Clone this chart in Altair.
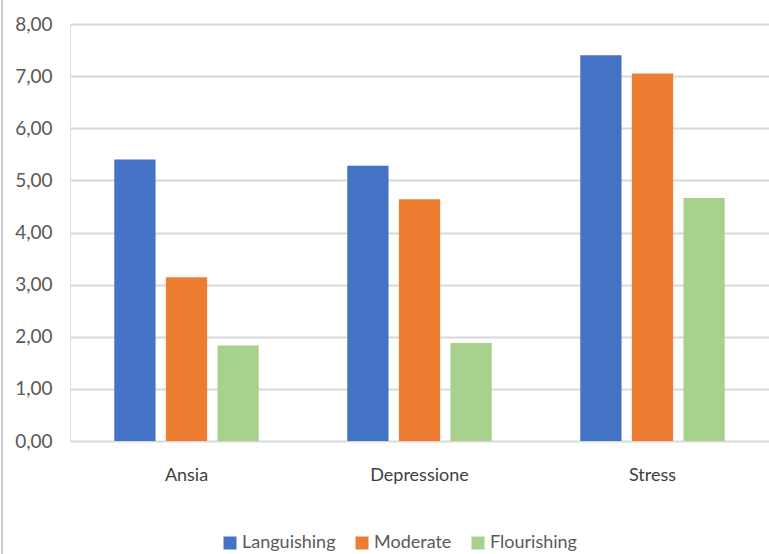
import altair as alt
import pandas as pd

# Mean scores per scale and mental-health group
categories = ["Ansia", "Depressione", "Stress"]
groups = ["Languishing", "Moderate", "Flourishing"]
languishing = [5.40, 5.28, 7.40]
moderate = [3.14, 4.64, 7.05]
flourishing = [1.83, 1.88, 4.66]
y_ticks = [0, 1, 2, 3, 4, 5, 6, 7, 8]

colors = ["#4472C4", "#ED7D31", "#A9D18E"]

rows = []
for series_name, values in zip(groups, [languishing, moderate, flourishing]):
    for cat, v in zip(categories, values):
        rows.append({"categoria": cat, "gruppo": series_name, "valore": v})
df = pd.DataFrame(rows)

FONT = "Lato"

bars = alt.Chart(df).mark_bar().encode(
    x=alt.X(
        "categoria:N",
        sort=categories,
        title=None,
        scale=alt.Scale(paddingInner=0.38, paddingOuter=0.19),
        axis=alt.Axis(
            labelAngle=0,
            ticks=False,
            domain=False,
            grid=False,
            labelFont=FONT,
            labelFontSize=18,
            labelColor="#404040",
            labelPadding=25,
        ),
    ),
    xOffset=alt.XOffset(
        "gruppo:N",
        sort=groups,
        scale=alt.Scale(paddingInner=0.2, paddingOuter=0),
    ),
    y=alt.Y(
        "valore:Q",
        title=None,
        scale=alt.Scale(domain=[0, 8], nice=False),
        axis=alt.Axis(
            values=y_ticks,
            labelExpr="replace(format(datum.value, '.2f'), '.', ',')",
            ticks=False,
            domain=False,
            gridColor="#D9D9D9",
            gridWidth=2,
            labelFont=FONT,
            labelFontSize=19,
            labelColor="#595959",
            labelPadding=18,
        ),
    ),
    color=alt.Color(
        "gruppo:N",
        sort=groups,
        scale=alt.Scale(domain=groups, range=colors),
        legend=alt.Legend(
            title=None,
            orient="none",
            direction="horizontal",
            legendX=151,
            legendY=510,
            symbolType="square",
            symbolSize=169,
            symbolStrokeWidth=0,
            labelFont=FONT,
            labelFontSize=18,
            labelColor="#595959",
            labelOffset=3,
            columnPadding=17,
        ),
    ),
)

# Thin chart-frame line along the left edge
frame = alt.Chart(pd.DataFrame({"x": [0]})).mark_rule(
    color="#C5CCD3", strokeWidth=2
).encode(
    x=alt.value(-68),
    y=alt.value(-30),
    y2=alt.value(120 + 417),
)

chart = alt.layer(bars, frame).properties(
    width=699,
    height=417,
    autosize=alt.AutoSizeParams(type="none"),
    padding={"left": 70, "top": 24, "right": 0, "bottom": 113},
).configure_view(stroke=None).configure(background="white")

chart.save("out.html", embed_options={"renderer": "svg", "actions": False})
